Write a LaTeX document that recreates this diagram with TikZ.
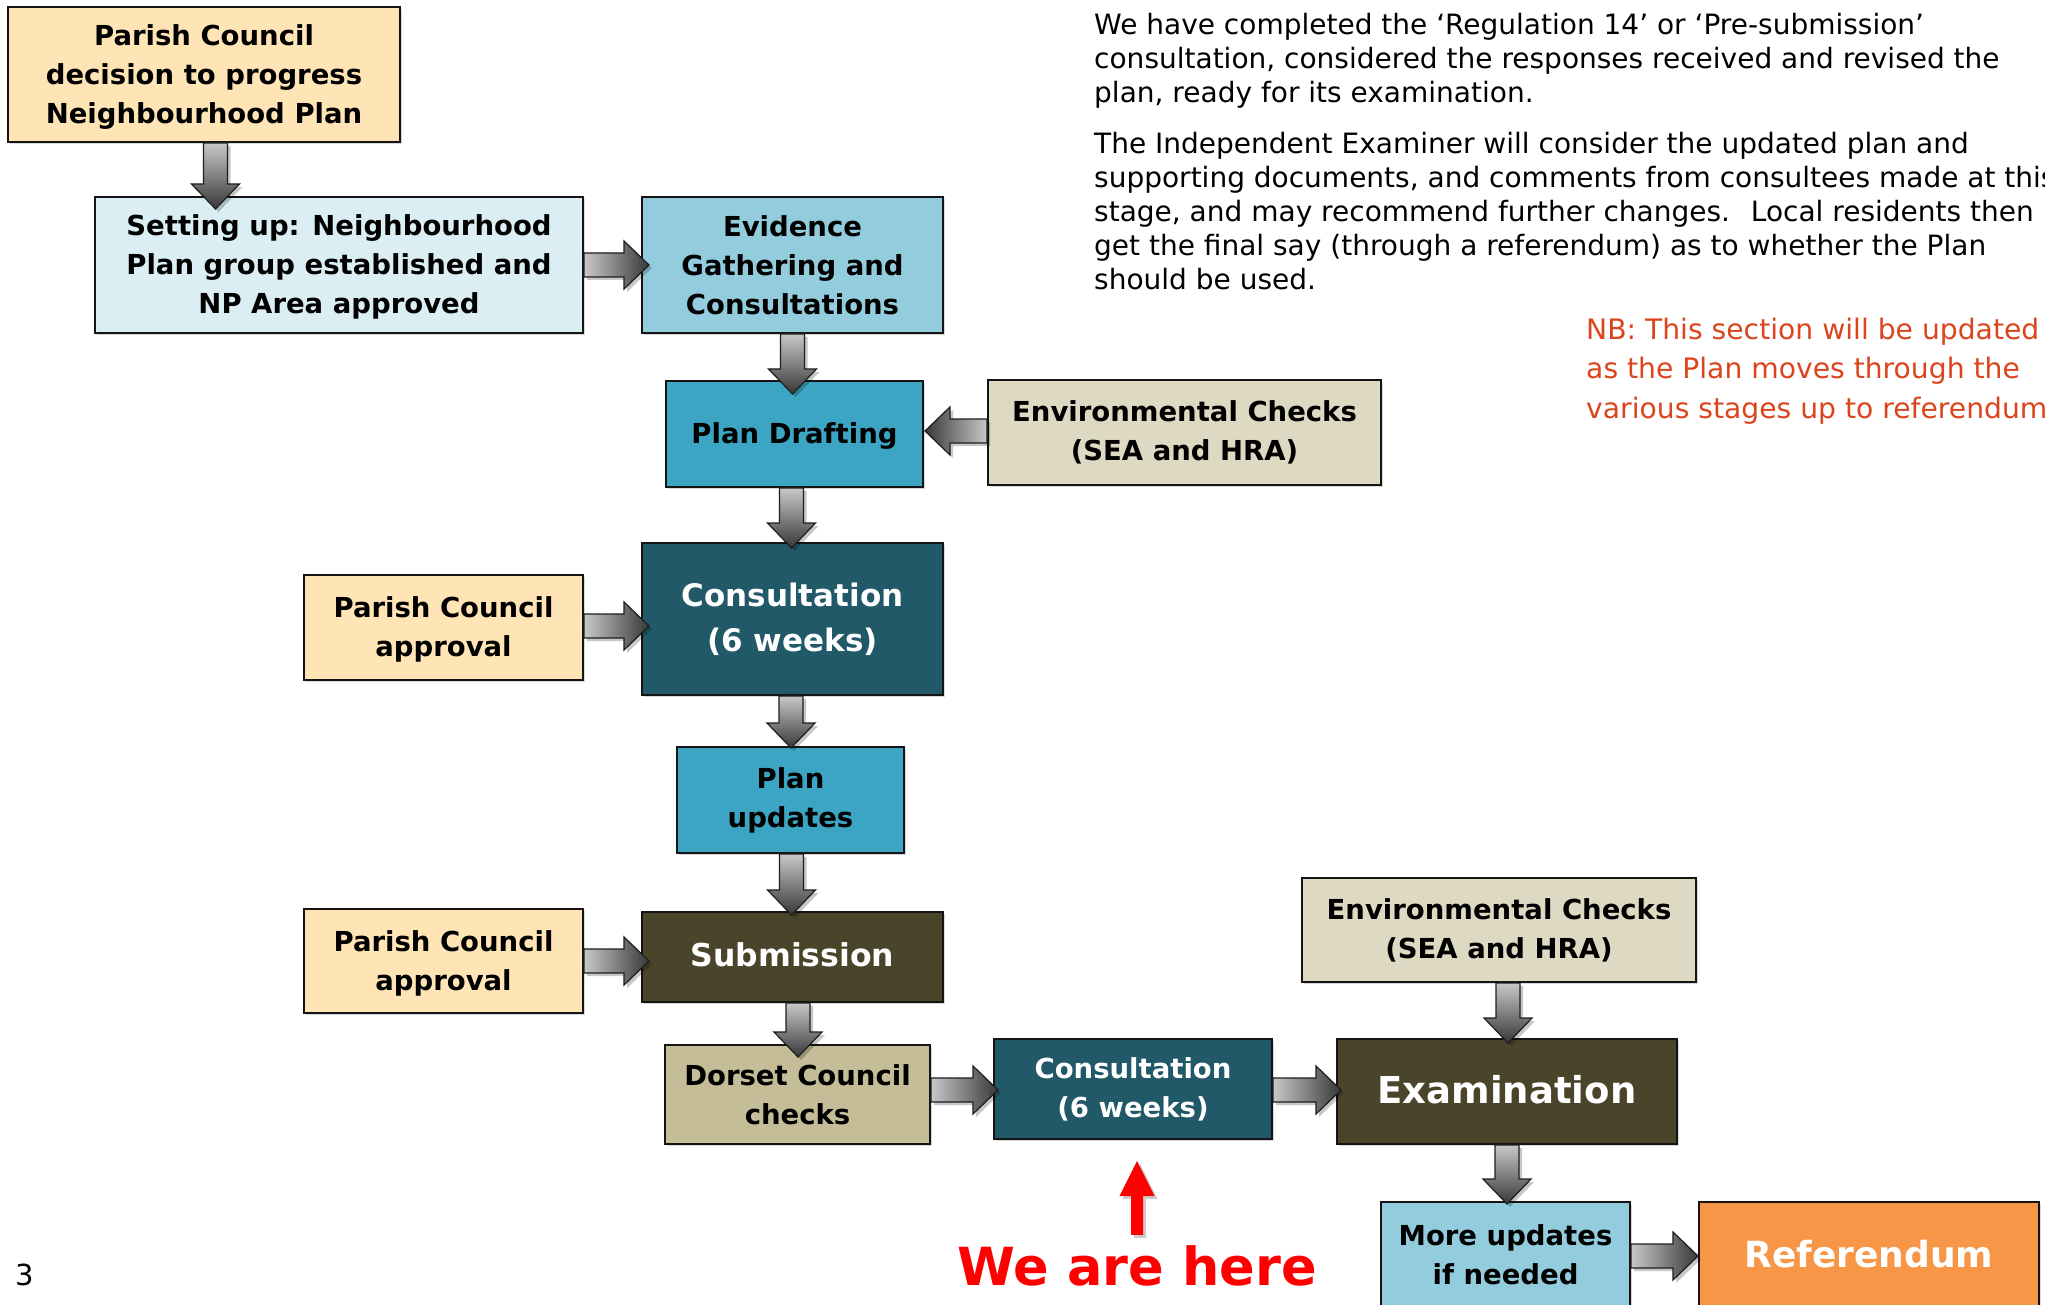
\documentclass[tikz,border=0pt]{standalone}
\usepackage{fontspec}
\setmainfont{DejaVu Sans}
\usetikzlibrary{calc,shadows}
\definecolor{cOrL}{HTML}{FFE5B5}
\definecolor{cBlL}{HTML}{DBEEF4}
\definecolor{cBlM}{HTML}{93CDDD}
\definecolor{cBlD}{HTML}{3CA5C3}
\definecolor{cTeal}{HTML}{215968}
\definecolor{cOlive}{HTML}{4A452A}
\definecolor{cBeige}{HTML}{DDD9C3}
\definecolor{cKhaki}{HTML}{C4BD97}
\definecolor{cOrange}{HTML}{F79646}
\definecolor{cNB}{HTML}{DB441C}
\definecolor{agl}{HTML}{C8C8C8}
\definecolor{agd}{HTML}{383838}
\definecolor{agline}{HTML}{1E1E1E}
\tikzset{
  box/.style={draw=black!92, line width=2pt, align=center, inner sep=0pt,
    font=\bfseries\fontsize{27.5}{39}\selectfont,
    drop shadow={shadow xshift=2pt, shadow yshift=-2pt, opacity=.3}},
  wtext/.style={text=white},
  arrshadow/.style={fill=black, opacity=.22},
  arrdown/.style={top color=agl, bottom color=agd, draw=agline, line width=1.2pt},
  arrright/.style={left color=agl, right color=agd, draw=agline, line width=1.2pt},
  arrleft/.style={left color=agd, right color=agl, draw=agline, line width=1.2pt},
  redshadow/.style={fill=black, opacity=.2},
  redarrow/.style={fill=red},
  para/.style={anchor=base west, inner sep=0pt, font=\fontsize{28}{34}\selectfont},
  nbtext/.style={anchor=base west, inner sep=0pt, text=cNB, font=\fontsize{28.2}{39}\selectfont},
}
% vertical block arrow: x from #1, tip at y of #2
\newcommand\downarr[2]{%
  \foreach \o/\st in {3pt/arrshadow,0pt/arrdown}{%
    \path[\st] let \p1=(#1), \p2=(#2) in
      (\x1-12pt+\o,\y1-\o) -- (\x1-12pt+\o,\y2+25pt-\o) -- (\x1-24pt+\o,\y2+25pt-\o)
      -- (\x1+\o,\y2-\o) -- (\x1+24pt+\o,\y2+25pt-\o) -- (\x1+12pt+\o,\y2+25pt-\o)
      -- (\x1+12pt+\o,\y1-\o) -- cycle;}}
% horizontal block arrow to the right: y from #1, tip at x of #2
\newcommand\rightarr[2]{%
  \foreach \o/\st in {3pt/arrshadow,0pt/arrright}{%
    \path[\st] let \p1=(#1), \p2=(#2) in
      (\x1+\o,\y1+12pt-\o) -- (\x2-25pt+\o,\y1+12pt-\o) -- (\x2-25pt+\o,\y1+24pt-\o)
      -- (\x2+\o,\y1-\o) -- (\x2-25pt+\o,\y1-24pt-\o) -- (\x2-25pt+\o,\y1-12pt-\o)
      -- (\x1+\o,\y1-12pt-\o) -- cycle;}}
% horizontal block arrow to the left
\newcommand\leftarr[2]{%
  \foreach \o/\st in {3pt/arrshadow,0pt/arrleft}{%
    \path[\st] let \p1=(#1), \p2=(#2) in
      (\x1+\o,\y1+12pt-\o) -- (\x2+25pt+\o,\y1+12pt-\o) -- (\x2+25pt+\o,\y1+24pt-\o)
      -- (\x2+\o,\y1-\o) -- (\x2+25pt+\o,\y1-24pt-\o) -- (\x2+25pt+\o,\y1-12pt-\o)
      -- (\x1+\o,\y1-12pt-\o) -- cycle;}}
\begin{document}
\begin{tikzpicture}[x=1pt,y=-1pt]
\clip (0,0) rectangle (2045,1305);
\fill[white] (0,0) rectangle (2045,1305);

% boxes
\node[box, fill=cOrL, minimum width=392pt, minimum height=135pt, text depth=0pt] (A) at (204,74.5)
  {Parish Council\\decision to progress\\Neighbourhood Plan};
\node[box, fill=cBlL, minimum width=488pt, minimum height=136pt, text depth=1pt] (B) at (339,265)
  {Setting up: Neighbourhood\\Plan group established and\\NP Area approved};
\node[box, fill=cBlM, minimum width=301pt, minimum height=136pt] (C) at (792.5,265)
  {Evidence\\Gathering and\\Consultations};
\node[box, fill=cBlD, minimum width=257pt, minimum height=106pt, text depth=2pt] (D) at (794.5,434)
  {Plan Drafting};
\node[box, fill=cBeige, minimum width=393pt, minimum height=105pt] (E) at (1184.5,432.5)
  {Environmental Checks\\(SEA and HRA)};
\node[box, fill=cTeal, wtext, minimum width=301pt, minimum height=152pt,
  font=\bfseries\fontsize{31}{45}\selectfont] (F) at (792.5,619)
  {Consultation\\(6 weeks)};
\node[box, fill=cOrL, minimum width=279pt, minimum height=105pt, text depth=1pt] (G) at (443.5,627.5)
  {Parish Council\\approval};
\node[box, fill=cBlD, minimum width=227pt, minimum height=106pt] (H) at (790.5,800)
  {Plan\\updates};
\node[box, fill=cOrL, minimum width=279pt, minimum height=104pt, text depth=1pt] (I) at (443.5,961)
  {Parish Council\\approval};
\node[box, fill=cOlive, wtext, minimum width=301pt, minimum height=90pt, text depth=5pt,
  font=\bfseries\fontsize{31.5}{45}\selectfont] (J) at (792.5,957)
  {Submission};
\node[box, fill=cKhaki, minimum width=265pt, minimum height=99pt] (K) at (797.5,1094.5)
  {Dorset Council\\checks};
\node[box, fill=cTeal, wtext, minimum width=278pt, minimum height=100pt] (L) at (1133,1089)
  {Consultation\\(6 weeks)};
\node[box, fill=cOlive, wtext, minimum width=340pt, minimum height=105pt, text depth=5pt,
  font=\bfseries\fontsize{37}{45}\selectfont] (M) at (1507,1091.5)
  {Examination};
\node[box, fill=cBeige, minimum width=394pt, minimum height=104pt] (N) at (1499,930)
  {Environmental Checks\\(SEA and HRA)};
\node[box, fill=cBlM, minimum width=249pt, minimum height=106pt] (O) at (1505.5,1255)
  {More updates\\if needed};
\node[box, fill=cOrange, wtext, minimum width=340pt, minimum height=106pt, text depth=2pt,
  font=\bfseries\fontsize{36}{45}\selectfont] (P) at (1869,1255)
  {Referendum};

% block arrows
\downarr{$(A.south)+(11.5,0)$}{$(B.north)+(0,13)$}
\rightarr{B.east}{$(C.west)+(8,0)$}
\downarr{C.south}{$(D.north)+(0,14)$}
\leftarr{$(E.west)+(0,-1.5)$}{$(D.east)+(1,0)$}
\downarr{$(D.south)+(-3,0)$}{$(F.north)+(0,6)$}
\rightarr{$(G.east)+(0,-1.5)$}{$(F.west)+(8,0)$}
\downarr{$(F.south)+(-1.5,0)$}{$(H.north)+(0,2)$}
\downarr{$(H.south)+(1,0)$}{$(J.north)+(0,4)$}
\rightarr{I.east}{$(J.west)+(8,0)$}
\downarr{$(J.south)+(5.5,0)$}{$(K.north)+(0,13)$}
\rightarr{$(K.east)+(0,-4.5)$}{$(L.west)+(5,0)$}
\rightarr{$(L.east)+(0,1)$}{$(M.west)+(5,0)$}
\downarr{$(N.south)+(9,0)$}{$(M.north)+(0,5)$}
\downarr{M.south}{$(O.north)+(0,3)$}
\rightarr{$(O.east)+(0,1)$}{$(P.west)+(0,0)$}

% "We are here"
\node[anchor=base, inner sep=0pt, text=red, font=\bfseries\fontsize{52.5}{60}\selectfont]
  (here) at (1137,1285) {We are here};
\coordinate (hereTip) at ($(L.south)+(3,21)$);
\foreach \o/\st in {3pt/redshadow,0pt/redarrow}{%
  \path[\st] let \p1=($(here.north)+(0,-10)$), \p2=(hereTip) in
    (\x1-6pt+\o,\y1-\o) -- (\x1-6pt+\o,\y2-35pt-\o) -- (\x1-17.5pt+\o,\y2-35pt-\o)
    -- (\x1+\o,\y2-\o) -- (\x1+17.5pt+\o,\y2-35pt-\o) -- (\x1+6pt+\o,\y2-35pt-\o)
    -- (\x1+6pt+\o,\y1-\o) -- cycle;}

% paragraph text
\node[para] (p1) at (1094,35) {We have completed the ‘Regulation 14’ or ‘Pre-submission’};
\node[para] (p2) at (1094,69) {consultation, considered the responses received and revised the};
\node[para] (p3) at (1094,103) {plan, ready for its examination.};
\node[para] (p4) at (1094,154) {The Independent Examiner will consider the updated plan and};
\node[para] (p5) at (1094,188) {supporting documents, and comments from consultees made at this};
\node[para] (p6) at (1094,222) {stage, and may recommend further changes.~ Local residents then};
\node[para] (p7) at (1094,256) {get the final say (through a referendum) as to whether the Plan};
\node[para] (p8) at (1094,290) {should be used.};

\node[nbtext] (nb1) at (1586,340) {NB: This section will be updated};
\node[nbtext] (nb2) at (1586,379) {as the Plan moves through the};
\node[nbtext] (nb3) at (1586,418) {various stages up to referendum};

\node[anchor=base, inner sep=0pt, font=\fontsize{29}{34}\selectfont] (pg) at (24.5,1285) {3};
\end{tikzpicture}
\end{document}
